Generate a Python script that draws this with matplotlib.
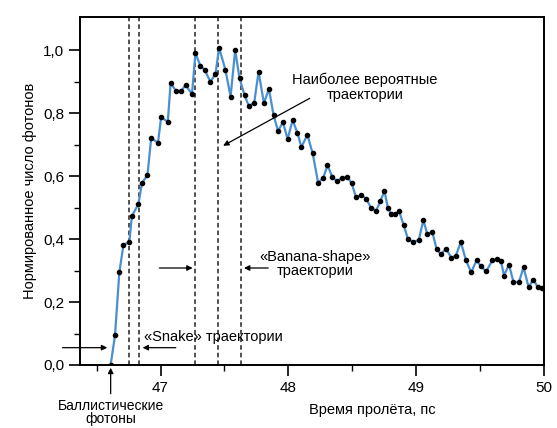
import numpy as np
import matplotlib
matplotlib.use("Agg")
import matplotlib.pyplot as plt

plt.rcParams['font.family'] = ['Liberation Sans', 'DejaVu Sans']

# time of flight, ps
t = [46.610, 46.644, 46.678, 46.710, 46.756, 46.776, 46.827, 46.855, 46.898, 46.927,
     46.980, 47.005, 47.057, 47.079, 47.119, 47.159, 47.196, 47.246, 47.273, 47.312,
     47.346, 47.390, 47.430, 47.458, 47.508, 47.548, 47.584, 47.618, 47.657, 47.691,
     47.733, 47.767, 47.809, 47.848, 47.884, 47.919, 47.958, 47.994, 48.033, 48.071,
     48.102, 48.149, 48.190, 48.233, 48.273, 48.306, 48.343, 48.379, 48.418, 48.461,
     48.494, 48.530, 48.571, 48.610, 48.647, 48.687, 48.720, 48.752, 48.778, 48.804,
     48.838, 48.866, 48.903, 48.935, 48.974, 49.020, 49.056, 49.086, 49.127, 49.160,
     49.194, 49.231, 49.276, 49.310, 49.349, 49.390, 49.430, 49.472, 49.507, 49.548,
     49.596, 49.632, 49.663, 49.687, 49.726, 49.761, 49.804, 49.840, 49.879, 49.917,
     49.950, 49.985]
# normalised photon count
n = [0.000, 0.095, 0.295, 0.381, 0.390, 0.473, 0.511, 0.578, 0.603, 0.721,
     0.705, 0.787, 0.772, 0.896, 0.871, 0.869, 0.889, 0.860, 0.990, 0.950,
     0.937, 0.899, 0.924, 1.007, 0.937, 0.852, 1.000, 0.910, 0.857, 0.822,
     0.833, 0.931, 0.831, 0.877, 0.794, 0.743, 0.771, 0.717, 0.777, 0.737,
     0.692, 0.731, 0.672, 0.579, 0.594, 0.634, 0.598, 0.583, 0.594, 0.597,
     0.578, 0.532, 0.540, 0.527, 0.499, 0.490, 0.521, 0.552, 0.500, 0.479,
     0.479, 0.489, 0.443, 0.401, 0.390, 0.397, 0.460, 0.417, 0.421, 0.367,
     0.352, 0.369, 0.341, 0.347, 0.390, 0.332, 0.294, 0.332, 0.313, 0.297,
     0.333, 0.335, 0.330, 0.284, 0.319, 0.263, 0.264, 0.310, 0.248, 0.271,
     0.248, 0.243]

dashed_t = [46.754, 46.833, 47.273, 47.448, 47.631]
x_ticks = [47, 48, 49, 50]
y_ticks = [0.0, 0.2, 0.4, 0.6, 0.8, 1.0]

fig = plt.figure(figsize=(5.57, 4.28), dpi=100)
ax = fig.add_axes([0.1436, 0.1472, 0.8331, 0.8131])

for xv in dashed_t:
    ax.axvline(xv, color='#222222', ls=(0, (3, 2)), lw=1.1, zorder=1)

ax.plot(t, n, color='#4a8fd0', lw=1.6, zorder=2)
ax.plot(t, n, 'o', color='black', ms=3.0, zorder=3)

ax.set_xlim(46.37, 50.0)
ax.set_ylim(0, 1.105)
ax.set_xticks(x_ticks)
ax.set_xticks([46.5, 47.5, 48.5, 49.5], minor=True)
ax.set_yticks(y_ticks)
ax.set_yticks([0.1, 0.3, 0.5, 0.7, 0.9], minor=True)
ax.set_yticklabels([f"{v:.1f}".replace('.', ',') for v in y_ticks])
ax.tick_params(which='major', direction='out', length=8, width=1.2, labelsize=11)
ax.tick_params(which='minor', direction='out', length=4, width=1.0)
for s in ax.spines.values():
    s.set_linewidth(1.4)

ax.set_ylabel("Нормированное число фотонов", fontsize=10.5)
ax.set_xlabel("Время пролёта, пс", fontsize=10.5, labelpad=6)
ax.xaxis.label.set_x(0.63)

arr = dict(arrowstyle='-|>', color='black', lw=0.9, mutation_scale=8)

# most probable paths
ax.annotate("", xy=(47.471, 0.692), xytext=(48.186, 0.851), arrowprops=arr)
ax.text(48.60, 0.882, "Наиболее вероятные\nтраектории", ha='center', va='center',
        fontsize=10.5, linespacing=1.05)

# banana-shape
ax.annotate("", xy=(47.273, 0.308), xytext=(46.969, 0.308), arrowprops=arr)
ax.annotate("", xy=(47.631, 0.308), xytext=(47.864, 0.308), arrowprops=arr)
ax.text(48.21, 0.320, "«Banana-shape»\nтраектории", ha='center', va='center',
        fontsize=10.5, linespacing=1.05)

# snake
ax.annotate("", xy=(46.605, 0.055), xytext=(46.212, 0.055), arrowprops=arr,
            annotation_clip=False)
ax.annotate("", xy=(46.838, 0.055), xytext=(47.141, 0.055), arrowprops=arr)
ax.text(46.87, 0.089, "«Snake» траектории", ha='left', va='center', fontsize=10.5)

# ballistic photons
ax.annotate("", xy=(46.61, 0.0), xytext=(46.61, -0.10), arrowprops=arr,
            annotation_clip=False)
ax.text(46.61, -0.108, "Баллистические\nфотоны", ha='center', va='top',
        fontsize=10, linespacing=0.92, clip_on=False)

fig.savefig("out.png", dpi=100)
